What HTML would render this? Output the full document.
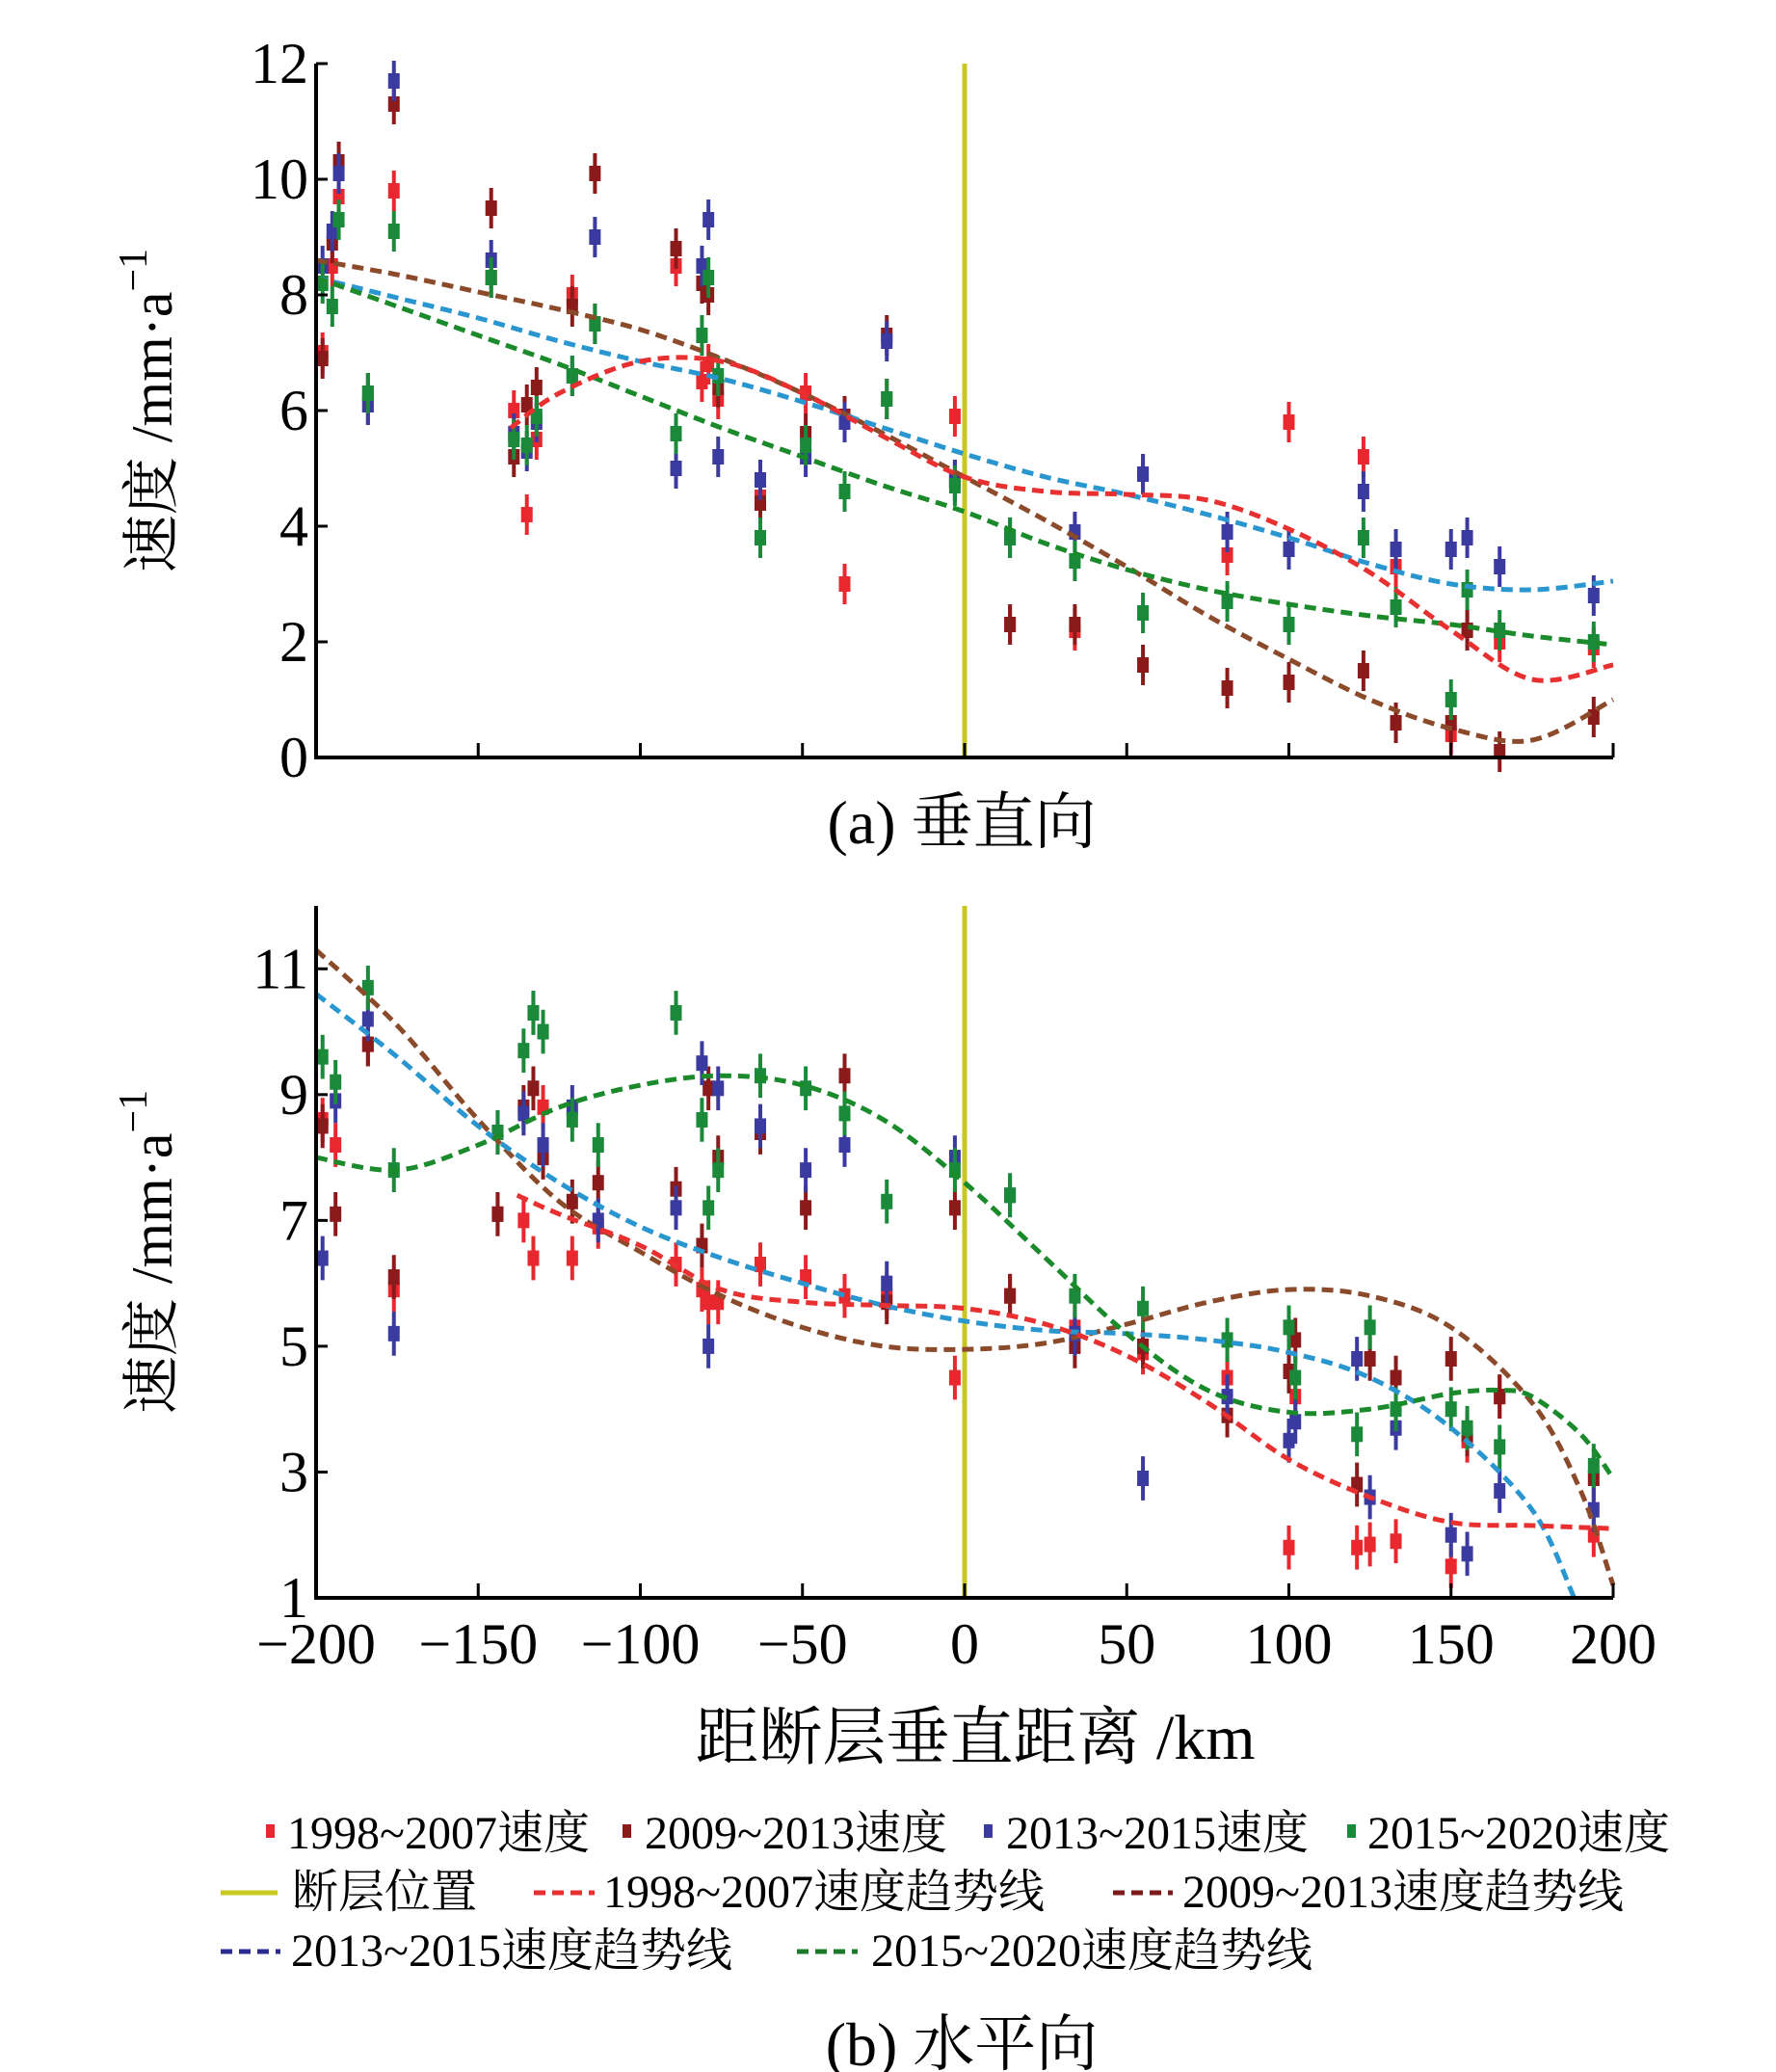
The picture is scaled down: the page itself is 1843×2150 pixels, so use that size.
<!DOCTYPE html>
<html><head><meta charset="utf-8"><style>
html,body{margin:0;padding:0;background:#fff;}
svg{display:block;font-family:"Liberation Serif","Noto Serif CJK SC",serif;}
</style></head><body>
<svg id="chart" width="1843" height="2150" viewBox="0 0 1843 2150" xmlns="http://www.w3.org/2000/svg">
<g id="panelA"></g>
<g id="panelB"></g>
<text x="998" y="875" font-size="64" text-anchor="middle">(a) 垂直向</text>
<text x="1012" y="1825" font-size="66" text-anchor="middle">距断层垂直距离 /km</text>
<g font-size="48">
 <rect x="276" y="1893" width="9" height="14" fill="#e8282e"/>
 <text x="298" y="1918">1998~2007速度</text>
 <rect x="646" y="1893" width="9" height="14" fill="#8b1a1a"/>
 <text x="669" y="1918">2009~2013速度</text>
 <rect x="1021" y="1893" width="9" height="14" fill="#3a3aa0"/>
 <text x="1044" y="1918">2013~2015速度</text>
 <rect x="1398" y="1893" width="9" height="14" fill="#1a8a3a"/>
 <text x="1419" y="1918">2015~2020速度</text>
 <line x1="229" y1="1964" x2="288" y2="1964" stroke="#c8c820" stroke-width="5"/>
 <text x="303" y="1979">断层位置</text>
 <line x1="554" y1="1964" x2="617" y2="1964" stroke="#e83030" stroke-width="5" stroke-dasharray="12 7"/>
 <text x="626" y="1979">1998~2007速度趋势线</text>
 <line x1="1155" y1="1964" x2="1217" y2="1964" stroke="#7a1a1a" stroke-width="5" stroke-dasharray="12 7"/>
 <text x="1227" y="1979">2009~2013速度趋势线</text>
 <line x1="229" y1="2025" x2="291" y2="2025" stroke="#2a2a90" stroke-width="5" stroke-dasharray="12 7"/>
 <text x="302" y="2040">2013~2015速度趋势线</text>
 <line x1="827" y1="2025" x2="890" y2="2025" stroke="#1a7a2a" stroke-width="5" stroke-dasharray="12 7"/>
 <text x="904" y="2040">2015~2020速度趋势线</text>
</g>
<text x="998" y="2143" font-size="64" text-anchor="middle">(b) 水平向</text>
</svg>
<script>
// ---------- data ----------
const trendX = [-200,-175,-150,-125,-100,-75,-50,-25,0,25,50,75,100,125,150,175,200];
// Panel A (vertical)
const aStations = [-198,-195,-193,-184,-176,-146,-139,-135,-132,-121,-114,-89,-81,-79,-76,-63,-49,-37,-24,-3,14,34,55,81,100,123,133,150,155,165,194];
const aRed   = [7.0,8.5,9.7,6.1,9.8,8.3,6.0,4.2,5.5,8.0,7.5,8.5,6.5,6.8,6.2,4.5,6.3,3.0,6.2,5.9,2.3,2.2,4.9,3.5,5.8,5.2,3.3,0.4,2.2,2.0,1.9];
const aDark  = [6.9,8.9,10.3,6.3,11.3,9.5,5.2,6.1,6.4,7.8,10.1,8.8,8.2,8.0,6.4,4.4,5.6,5.9,7.3,4.8,2.3,2.3,1.6,1.2,1.3,1.5,0.6,0.6,2.2,0.1,0.7];
const aBlue  = [8.5,9.1,10.1,6.1,11.7,8.6,5.6,5.3,5.8,6.6,9.0,5.0,8.5,9.3,5.2,4.8,5.2,5.8,7.2,4.8,3.8,3.9,4.9,3.9,3.6,4.6,3.6,3.6,3.8,3.3,2.8];
const aGreen = [8.2,7.8,9.3,6.3,9.1,8.3,5.5,5.4,5.9,6.6,7.5,5.6,7.3,8.3,6.6,3.8,5.4,4.6,6.2,4.7,3.8,3.4,2.5,2.7,2.3,3.8,2.6,1.0,2.9,2.2,2.0];
const aTrendRedX = [-140,-125,-100,-75,-50,-25,0,25,50,75,100,125,150,175,200];
const aTrendRed  = [5.7,6.3,6.85,6.85,6.3,5.55,4.85,4.6,4.55,4.45,3.95,3.2,2.2,1.35,1.6];
const aTrendDark = [8.6,8.35,8.05,7.75,7.4,6.9,6.3,5.6,4.85,4.1,3.3,2.45,1.7,1.0,0.5,0.3,1.0];
const aTrendBlue = [8.3,7.95,7.6,7.2,6.85,6.55,6.15,5.7,5.25,4.85,4.55,4.2,3.8,3.35,3.0,2.9,3.05];
const aTrendGreen= [8.3,7.8,7.3,6.8,6.25,5.7,5.2,4.7,4.25,3.7,3.25,2.9,2.65,2.45,2.3,2.1,1.95];
const aYTicks = [0,2,4,6,8,10,12];
// Panel B (horizontal)
const bStations = [-198,-194,-184,-176,-144,-136,-133,-130,-121,-113,-89,-81,-79,-76,-63,-49,-37,-24,-3,14,34,55,81,100,102,121,125,133,150,155,165,194];
const bRed   = [8.6,8.2,9.8,5.9,7.1,7.0,6.4,8.8,6.4,6.9,6.3,5.9,5.7,5.7,6.3,6.1,5.8,5.8,4.5,5.8,5.3,4.9,4.5,1.8,4.2,1.8,1.85,1.9,1.5,3.5,4.2,2.0];
const bDark  = [8.5,7.1,9.8,6.1,7.1,8.8,9.1,8.0,7.3,7.6,7.5,6.6,9.1,8.0,8.4,7.2,9.3,5.7,7.2,5.8,5.0,5.0,3.9,4.6,5.1,2.8,4.8,4.5,4.8,3.6,4.2,2.9];
const bBlue  = [6.4,8.9,10.2,5.2,8.4,8.7,10.3,8.2,8.8,7.0,7.2,9.5,5.0,9.1,8.5,7.8,8.2,6.0,8.0,7.4,5.2,2.9,4.2,3.5,3.8,4.8,2.6,3.7,2.0,1.7,2.7,2.4];
const bGreen = [9.6,9.2,10.7,7.8,8.4,9.7,10.3,10.0,8.6,8.2,10.3,8.6,7.2,7.8,9.3,9.1,8.7,7.3,7.8,7.4,5.8,5.6,5.1,5.3,4.5,3.6,5.3,4.0,4.0,3.7,3.4,3.1];
const bTrendRedX = [-138,-125,-100,-75,-50,-25,0,25,50,75,100,125,150,175,200];
const bTrendRed  = [7.4,7.1,6.6,5.9,5.7,5.65,5.6,5.35,4.85,4.1,3.2,2.6,2.2,2.15,2.1];
const bTrendDarkX = [-200,-175,-150,-125,-100,-75,-50,-25,0,25,50,75,100,125,150,175,190,200];
const bTrendDark = [11.3,10.1,8.6,7.3,6.5,5.8,5.3,5.0,4.95,5.05,5.35,5.7,5.9,5.8,5.3,4.1,2.7,1.2];
const bTrendBlueX = [-200,-175,-150,-125,-100,-75,-50,-25,0,25,50,75,100,125,150,175,188];
const bTrendBlue = [10.6,9.6,8.5,7.6,6.9,6.4,6.0,5.65,5.4,5.25,5.2,5.1,4.9,4.5,3.7,2.4,1.0];
const bTrendGreenX = [-200,-175,-150,-125,-100,-75,-50,-25,0,25,50,75,100,125,150,165,175,190,200];
const bTrendGreen = [8.0,7.8,8.2,8.8,9.15,9.3,9.15,8.6,7.6,6.4,5.2,4.3,3.95,4.0,4.25,4.3,4.2,3.6,2.9];
const bYTicks = [1,3,5,7,9,11];
const xTicks = [-200,-150,-100,-50,0,50,100,150,200];
const xTickLabels = ["−200","−150","−100","−50","0","50","100","150","200"];

const NS = "http://www.w3.org/2000/svg";
function mk(parent, tag, attrs){const e=document.createElementNS(NS,tag);for(const k in attrs)e.setAttribute(k,attrs[k]);parent.appendChild(e);return e;}
function smooth(pts){
  let d="M"+pts[0][0]+","+pts[0][1];
  for(let i=0;i<pts.length-1;i++){
    const p0=pts[i-1]||pts[i],p1=pts[i],p2=pts[i+1],p3=pts[i+2]||p2;
    const c1=[p1[0]+(p2[0]-p0[0])/6,p1[1]+(p2[1]-p0[1])/6];
    const c2=[p2[0]-(p3[0]-p1[0])/6,p2[1]-(p3[1]-p1[1])/6];
    d+=" C"+c1[0]+","+c1[1]+" "+c2[0]+","+c2[1]+" "+p2[0]+","+p2[1];
  }
  return d;
}
const L=328,R=1674;
function xs(v){return L+(v+200)/400*(R-L);}
const COLORS={red:"#e8282e",dark:"#8b1a1a",blue:"#3a3aa0",green:"#1a8a3a"};
const TCOL={red:"#e83030",dark:"#8b4a2a",blue:"#2a96d0",green:"#1a8a2a"};

function panel(g, opt){
  const ys=v=>opt.y0px+(v-opt.ymin)/(opt.ymax-opt.ymin)*(opt.y1px-opt.y0px);
  // fault line
  const f=mk(g,"line",{x1:xs(0),x2:xs(0),y1:opt.y1px,y2:opt.y0px,stroke:"#c8c820","stroke-width":5});
  
  
  // points
  const series=[["red",opt.red],["dark",opt.dark],["blue",opt.blue],["green",opt.green]];
  series.forEach(([k,vals])=>{
    const sg=mk(g,"g",{});
    
    
    vals.forEach((v,i)=>{
      const x=xs(opt.st[i]),y=ys(v);
      const e=mk(sg,"line",{x1:x,x2:x,y1:ys(v+0.35),y2:ys(v-0.35),stroke:COLORS[k],"stroke-width":4});
      
      
      const r=mk(sg,"rect",{x:x-6,y:y-8,width:12,height:16,fill:COLORS[k]});
      
      
    });
  });
  // trends
  opt.trends.forEach(([k,xa,ya])=>{
    const p=mk(g,"path",{d:smooth(xa.map((x,i)=>[xs(x),ys(ya[i])])),fill:"none",stroke:TCOL[k],"stroke-width":5,"stroke-dasharray":"12 7"});
    
    
  });
  // axes
  const ax=mk(g,"path",{d:"M"+L+","+opt.y1px+" L"+L+","+opt.y0px+" L"+R+","+opt.y0px,fill:"none",stroke:"#000","stroke-width":4});
  
  
  xTicks.forEach((t,i)=>{
    const tl=mk(g,"line",{x1:xs(t),x2:xs(t),y1:opt.y0px,y2:opt.y0px-15,stroke:"#000","stroke-width":3});
    
    
    if(opt.xlabels){
      const tx=mk(g,"text",{x:xs(t),y:opt.y0px+68,"font-size":60,"text-anchor":"middle"});
      tx.textContent=xTickLabels[i];
      
      
    }
  });
  opt.yticks.forEach(t=>{
    const tl=mk(g,"line",{x1:L,x2:L+12,y1:ys(t),y2:ys(t),stroke:"#000","stroke-width":3});
    
    
    const tx=mk(g,"text",{x:L-8,y:ys(t)+20,"font-size":60,"text-anchor":"end"});
    tx.textContent=String(t);
    
    
  });
  const cy=(opt.y0px+opt.y1px)/2;
  const yt=mk(g,"text",{x:0,y:0,"font-size":60,"text-anchor":"middle",transform:"translate(178,"+cy+") rotate(-90)"});
  
  
  yt.innerHTML='速度 /mm·a<tspan font-size="42" dy="-26">−1</tspan>';
}
panel(document.getElementById("panelA"),{ymin:0,ymax:12,y0px:786,y1px:66,st:aStations,red:aRed,dark:aDark,blue:aBlue,green:aGreen,yticks:aYTicks,xlabels:false,
  trends:[["dark",trendX,aTrendDark],["blue",trendX,aTrendBlue],["green",trendX,aTrendGreen],["red",aTrendRedX,aTrendRed]]});
panel(document.getElementById("panelB"),{ymin:1,ymax:12,y0px:1658,y1px:940,st:bStations,red:bRed,dark:bDark,blue:bBlue,green:bGreen,yticks:bYTicks,xlabels:true,
  trends:[["dark",bTrendDarkX,bTrendDark],["blue",bTrendBlueX,bTrendBlue],["green",bTrendGreenX,bTrendGreen],["red",bTrendRedX,bTrendRed]]});
</script>
</body></html>
